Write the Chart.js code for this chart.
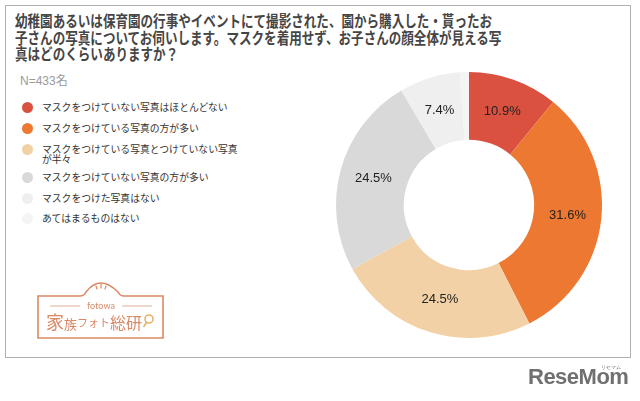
<!DOCTYPE html>
<html>
<head>
<meta charset="utf-8">
<script src="https://cdn.jsdelivr.net/npm/chart.js@4.4.0/dist/chart.umd.min.js"></script>
<style>
  html, body { margin: 0; padding: 0; background: #fff; }
  body { width: 640px; height: 401px; position: relative; overflow: hidden;
         font-family: "Noto Sans CJK JP", "Noto Sans", sans-serif; }
  #frame { position: absolute; left: 5px; top: 5px; width: 626px; height: 353px;
           border: 1.5px solid #b0b0b0; box-sizing: border-box; }
  #title { position: absolute; left: 15px; top: 12px; width: 600px; font-size: 15.5px; font-weight: bold;
           line-height: 16.5px; color: #454545; transform: scaleX(0.81); transform-origin: 0 0; white-space: nowrap; }
  #n { position: absolute; left: 20px; top: 71px; font-size: 12px; color: #9a9a9a; font-family: "Liberation Sans", "Noto Sans CJK JP", sans-serif; }
  #legend { position: absolute; left: 22px; top: 100px; }
  .item { position: absolute; left: 0; width: 240px; font-size: 9.8px; color: #333; line-height: 10px; }
  .dot { position: absolute; left: 0; top: 1px; width: 11px; height: 11px; border-radius: 50%; }
  .txt { position: absolute; left: 20px; top: 1px; white-space: nowrap; }
  #chart { position: absolute; left: 0; top: 0; }
  #logo { position: absolute; left: 36px; top: 280px; }
  #rm { position: absolute; left: 528px; top: 366px; font-family: "Liberation Sans", "DejaVu Sans", sans-serif;
        font-weight: bold; font-size: 22px; line-height: 22px; color: #707070; letter-spacing: -0.5px; }
  #rm small { position: absolute; left: 73px; top: -1px; font-size: 5px; line-height: 5px; letter-spacing: 0; font-weight: normal; }
</style>
</head>
<body>
<div id="frame"></div>
<div id="title"></div>
<div id="n"></div>
<div id="legend"></div>
<canvas id="chart" width="640" height="401"></canvas>
<svg id="logo" width="130" height="62" viewBox="0 0 130 62">
  <path d="M2 16 H44 Q48 16 50 12 Q64 -6 82 12 Q84 16 88 16 H127 V58 H2 Z" fill="#fff" stroke="#d98966" stroke-width="1.6"/>
  <path d="M60 6 L61 9 M65 4 L65 8 M70 6 L69 9" stroke="#d98966" stroke-width="1.2" stroke-linecap="round"/>
  <line x1="14" y1="26" x2="44" y2="26" stroke="#dba58c" stroke-width="0.9"/>
  <line x1="86" y1="26" x2="116" y2="26" stroke="#dba58c" stroke-width="0.9"/>
  <text x="65" y="29" text-anchor="middle" font-family="Lato, sans-serif" font-size="9" fill="#d98966">fotowa</text>
  <text x="10" y="49" font-family="Noto Sans CJK JP" font-size="18" fill="#d98966">家<tspan font-size="13">族</tspan><tspan font-size="11" dy="-2">フォト</tspan><tspan font-size="16" dy="2">総研</tspan></text>
  <circle cx="113" cy="39" r="4" fill="none" stroke="#e8b36a" stroke-width="1.6"/>
  <line x1="110.5" y1="42.5" x2="107.5" y2="47" stroke="#e8b36a" stroke-width="1.6"/>
</svg>
<div id="rm">ReseMom<small>リセマム</small></div>
<script>
const titleLines = [
  "幼稚園あるいは保育園の行事やイベントにて撮影された、園から購入した・貰ったお",
  "子さんの写真についてお伺いします。マスクを着用せず、お子さんの顔全体が見える写",
  "真はどのくらいありますか？"
];
const sampleNote = "N=433名";
const categories = [
  "マスクをつけていない写真はほとんどない",
  "マスクをつけている写真の方が多い",
  "マスクをつけている写真とつけていない写真\nが半々",
  "マスクをつけていない写真の方が多い",
  "マスクをつけた写真はない",
  "あてはまるものはない"
];
const values = [10.9, 31.6, 24.5, 24.5, 7.4, 1.1];
const colors = ["#db5140", "#ec7832", "#f3d1a6", "#d9d9d9", "#efefef", "#f4f4f4"];
const legendTops = [1, 22, 43, 71, 92, 112];

document.getElementById('title').innerHTML = titleLines.join('<br>');
document.getElementById('n').textContent = sampleNote;
const lg = document.getElementById('legend');
categories.forEach((c, i) => {
  const d = document.createElement('div');
  d.className = 'item';
  d.style.top = legendTops[i] + 'px';
  d.innerHTML = '<span class="dot" style="background:' + colors[i] + '"></span><span class="txt">' +
    c.replace('\n', '<br>') + '</span>';
  lg.appendChild(d);
});

const labelPlugin = {
  id: 'sliceLabels',
  afterDatasetsDraw(chart) {
    const ctx = chart.ctx;
    const meta = chart.getDatasetMeta(0);
    ctx.save();
    ctx.font = '13px "Liberation Sans", Arial, sans-serif';
    ctx.fillStyle = '#222';
    ctx.textAlign = 'center';
    ctx.textBaseline = 'middle';
    meta.data.forEach((arc, i) => {
      const v = chart.data.datasets[0].data[i];
      if (v < 5) return;
      const p = arc.getProps(['x', 'y', 'startAngle', 'endAngle', 'innerRadius', 'outerRadius'], true);
      const a = (p.startAngle + p.endAngle) / 2;
      const r = (p.innerRadius + p.outerRadius) / 2;
      ctx.fillText(v.toFixed(1) + '%', p.x + Math.cos(a) * r, p.y + Math.sin(a) * r);
    });
    ctx.restore();
  }
};

new Chart(document.getElementById('chart'), {
  type: 'doughnut',
  data: {
    labels: categories,
    datasets: [{ data: values, backgroundColor: colors, borderWidth: 0 }]
  },
  options: {
    responsive: false,
    animation: false,
    cutout: '49%',
    layout: { padding: { left: 336, top: 72, right: 38, bottom: 63 } },
    plugins: { legend: { display: false }, tooltip: { enabled: false } }
  },
  plugins: [labelPlugin]
});
</script>
</body>
</html>
